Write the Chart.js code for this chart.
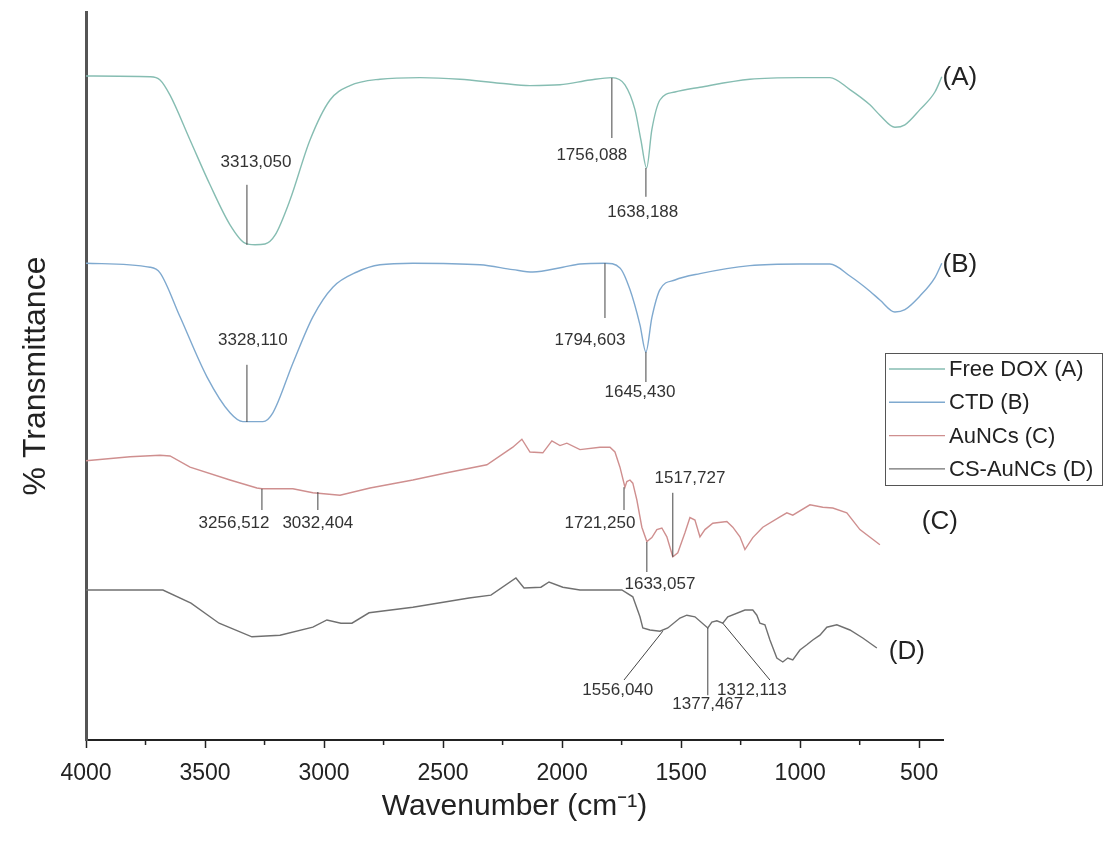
<!DOCTYPE html>
<html><head><meta charset="utf-8">
<script src="https://cdn.jsdelivr.net/npm/chart.js@4/dist/chart.umd.min.js"></script>
<style>html,body{margin:0;padding:0;background:#fff}#wrap{width:1106px;height:855px;position:relative}</style>
</head><body><div id="wrap"><canvas id="c"></canvas></div>
<script>
// ---- data (wavenumber cm-1, % transmittance, offset stacked) ----
const seriesNames = ['Free DOX (A)', 'CTD (B)', 'AuNCs (C)', 'CS-AuNCs (D)'];
const seriesTags = ['(A)', '(B)', '(C)', '(D)'];
const xTickValues = [4000, 3500, 3000, 2500, 2000, 1500, 1000, 500];

const freeDoxWn = [4000,3731,3689,3647,3563,3479,3395,3332,3290,3248,3206,3143,3059,2975,2891,2765,2597,2429,2261,2135,2009,1883,1791,1736,1694,1669,1645,1623,1589,1526,1421,1211,1001,875,791,707,665,602,560,497,434,405];
const freeDoxT  = [83,82.9,82.5,80.6,75,69.4,64.4,62.1,61.9,62,63.1,67.5,75,80,81.8,82.6,82.8,82.6,82.1,81.8,81.9,82.5,82.8,81.9,78.8,75,71.5,76.3,80,81,81.6,82.6,82.8,82.8,81.3,79.4,78.1,76.6,76.9,78.8,81,82.9];

const ctdWn = [4000,3731,3689,3605,3492,3395,3341,3257,3215,3131,3047,2963,2862,2765,2627,2345,2207,2123,1997,1925,1820,1757,1715,1673,1648,1623,1589,1526,1421,1211,1001,875,791,707,665,602,560,497,434,405];
const ctdT  = [59.6,59.1,58.4,52.9,45.4,40.9,39.8,39.8,40.9,47.1,52.9,56.6,58.5,59.4,59.6,59.4,58.8,58.5,59.1,59.5,59.6,59,56.3,51.9,48.5,52.8,56.3,57.5,58.3,59.3,59.5,59.5,58,56.1,55,53.5,53.8,55.5,57.8,59.6];

const auncsWn = [4000,3815,3689,3647,3563,3395,3282,3261,3131,3047,2933,2807,2627,2484,2316,2207,2169,2135,2081,2043,2009,1980,1925,1841,1799,1778,1757,1736,1728,1715,1703,1686,1665,1644,1623,1602,1581,1560,1535,1514,1484,1463,1442,1421,1400,1367,1308,1283,1253,1232,1199,1157,1085,1056,1031,959,905,863,804,749,665];
const auncsT  = [34.9,35.4,35.6,35.5,34.1,32.5,31.5,31.4,31.4,30.9,30.6,31.5,32.5,33.4,34.4,36.6,37.6,36,35.9,37.4,36.8,37.1,36.3,36.6,36.6,36,34.1,31.6,32.3,32.5,32.1,30,26.6,24.8,25.3,26.3,26.5,25.4,22.9,23.4,25.9,27.8,27.5,25.4,26.3,27.1,27.3,26.6,25.4,23.8,25.3,26.6,27.9,28.4,28.1,29.4,29.1,29,28.4,26.3,24.4];

const csAuncsWn = [4000,3677,3559,3441,3303,3185,3047,2988,2929,2883,2811,2627,2391,2299,2194,2160,2089,2055,1997,1925,1749,1703,1673,1661,1631,1589,1556,1505,1476,1442,1388,1371,1350,1325,1304,1232,1199,1182,1169,1148,1127,1098,1073,1052,1031,1001,972,947,917,888,846,791,737,678];
const csAuncsT  = [18.75,18.75,17.1,14.6,12.9,13.1,14.1,15,14.6,14.6,15.9,16.6,17.75,18.1,20.25,19,19.1,19.75,19.1,18.75,18.75,17.9,15.4,14,13.75,13.6,14,15.25,15.6,15.4,14,14.75,14.9,14.6,15.4,16.25,16.25,15.6,14.6,14.4,12.5,10.25,9.75,10.25,10,11.25,11.9,12.5,13.1,14.1,14.4,13.75,12.75,11.5];

// peak labels (text + leader line, in data units)
const peakMarks = [
  {text:'3313,050', x1:3324, y1:69.4,  x2:3324, y2:61.9,  lx:3286, ly:72.25},
  {text:'1756,088', x1:1791, y1:82.75, x2:1791, y2:75.25, lx:1875, ly:73.1},
  {text:'1638,188', x1:1648, y1:71.5,  x2:1648, y2:67.9,  lx:1661, ly:66},
  {text:'3328,110', x1:3324, y1:46.9,  x2:3324, y2:39.75, lx:3299, ly:50},
  {text:'1794,603', x1:1820, y1:59.6,  x2:1820, y2:52.75, lx:1883, ly:50},
  {text:'1645,430', x1:1648, y1:48.5,  x2:1648, y2:44.75, lx:1673, ly:43.4},
  {text:'3256,512', x1:3261, y1:31.4,  x2:3261, y2:28.75, lx:3378, ly:27.1},
  {text:'3032,404', x1:3026, y1:31,    x2:3026, y2:28.75, lx:3026, ly:27.1},
  {text:'1721,250', x1:1740, y1:31.6,  x2:1740, y2:28.75, lx:1841, ly:27.1},
  {text:'1517,727', x1:1535, y1:30.9,  x2:1535, y2:22.9,  lx:1463, ly:32.75},
  {text:'1633,057', x1:1644, y1:24.75, x2:1644, y2:21,    lx:1589, ly:19.4},
  {text:'1556,040', x1:1577, y1:13.6,  x2:1740, y2:7.5,   lx:1766, ly:6.25},
  {text:'1377,467', x1:1388, y1:14,    x2:1388, y2:5.6,   lx:1388, ly:4.4},
  {text:'1312,113', x1:1325, y1:14.6,  x2:1127, y2:7.5,   lx:1203, ly:6.25}
];
const tagPos = [{x:329,y:82.75},{x:329,y:59.4},{x:413,y:27.25},{x:552,y:11}];

// ---- build ----
const FONT = '"Liberation Sans", Arial, sans-serif';
Chart.defaults.font.family = FONT;
const colors = ['#86bdb2', '#7fa9cf', '#cf8f8f', '#707070'];
const xs = [freeDoxWn, ctdWn, auncsWn, csAuncsWn];
const ys = [freeDoxT, ctdT, auncsT, csAuncsT];
const datasets = seriesNames.map((n, i) => ({
  label: n,
  data: xs[i].map((w, k) => ({x: w, y: ys[i][k]})),
  borderColor: colors[i],
  borderWidth: 1.4,
  pointRadius: 0,
  fill: false,
  cubicInterpolationMode: i < 2 ? 'monotone' : 'default',
  tension: 0
}));

const extras = {
  id: 'extras',
  afterDraw(chart) {
    const {ctx, scales: {x, y}} = chart;
    ctx.save();
    // minor ticks
    ctx.strokeStyle = '#222'; ctx.lineWidth = 1.5;
    for (let v = 3750; v > 400; v -= 500) {
      const px = x.getPixelForValue(v);
      ctx.beginPath(); ctx.moveTo(px, y.bottom); ctx.lineTo(px, y.bottom + 5); ctx.stroke();
    }
    // peak marks
    ctx.strokeStyle = '#444'; ctx.lineWidth = 1;
    ctx.fillStyle = '#333';
    ctx.font = '17px ' + FONT;
    ctx.textAlign = 'center'; ctx.textBaseline = 'middle';
    peakMarks.forEach(p => {
      ctx.beginPath();
      ctx.moveTo(x.getPixelForValue(p.x1), y.getPixelForValue(p.y1));
      ctx.lineTo(x.getPixelForValue(p.x2), y.getPixelForValue(p.y2));
      ctx.stroke();
      ctx.fillText(p.text, x.getPixelForValue(p.lx), y.getPixelForValue(p.ly));
    });
    // series tags
    ctx.font = '26px ' + FONT; ctx.fillStyle = '#222';
    seriesTags.forEach((t, i) => ctx.fillText(t, x.getPixelForValue(tagPos[i].x), y.getPixelForValue(tagPos[i].y)));
    // legend
    const bx = 885, by = 353, bw = 217, bh = 132, rh = 33.3;
    ctx.strokeStyle = '#555'; ctx.lineWidth = 1;
    ctx.strokeRect(bx + 0.5, by + 0.5, bw, bh);
    ctx.font = '22px ' + FONT; ctx.textAlign = 'left'; ctx.fillStyle = '#222';
    chart.data.datasets.forEach((d, i) => {
      const yy = by + 16 + i * rh;
      ctx.strokeStyle = d.borderColor; ctx.lineWidth = 1.4;
      ctx.beginPath(); ctx.moveTo(bx + 4, yy); ctx.lineTo(bx + 60, yy); ctx.stroke();
      ctx.fillText(d.label, bx + 64, yy + 1);
    });
    ctx.restore();
  }
};

new Chart(document.getElementById('c'), {
  type: 'line',
  data: {datasets},
  options: {
    responsive: true, maintainAspectRatio: false, animation: false,
    layout: {padding: {top: 12, right: 163, left: 0, bottom: 0}},
    plugins: {legend: {display: false}, tooltip: {enabled: false}},
    scales: {
      x: {
        type: 'linear', reverse: true, min: 400, max: 4000,
        afterBuildTicks: s => { s.ticks = xTickValues.map(v => ({value: v})); },
        afterFit: s => { s.height = 115; },
        ticks: {font: {size: 23}, color: '#222', padding: 12, maxRotation: 0, autoSkip: false,
                callback: v => String(v)},
        grid: {display: true, drawOnChartArea: false, drawTicks: true, tickLength: 8, tickWidth: 1.5, tickColor: '#222'},
        border: {display: true, color: '#222', width: 2},
        title: {display: true, text: 'Wavenumber (cm⁻¹)', font: {size: 30}, color: '#222', padding: {top: 0, bottom: 30}}
      },
      y: {
        min: 0, max: 91,
        afterFit: s => { s.width = 86; },
        ticks: {display: false},
        grid: {display: false, drawTicks: false},
        border: {display: true, color: '#555', width: 3},
        title: {display: true, text: '% Transmittance', font: {size: 32}, color: '#222', padding: {top: 17, bottom: 0}}
      }
    }
  },
  plugins: [extras]
});
</script></body></html>
